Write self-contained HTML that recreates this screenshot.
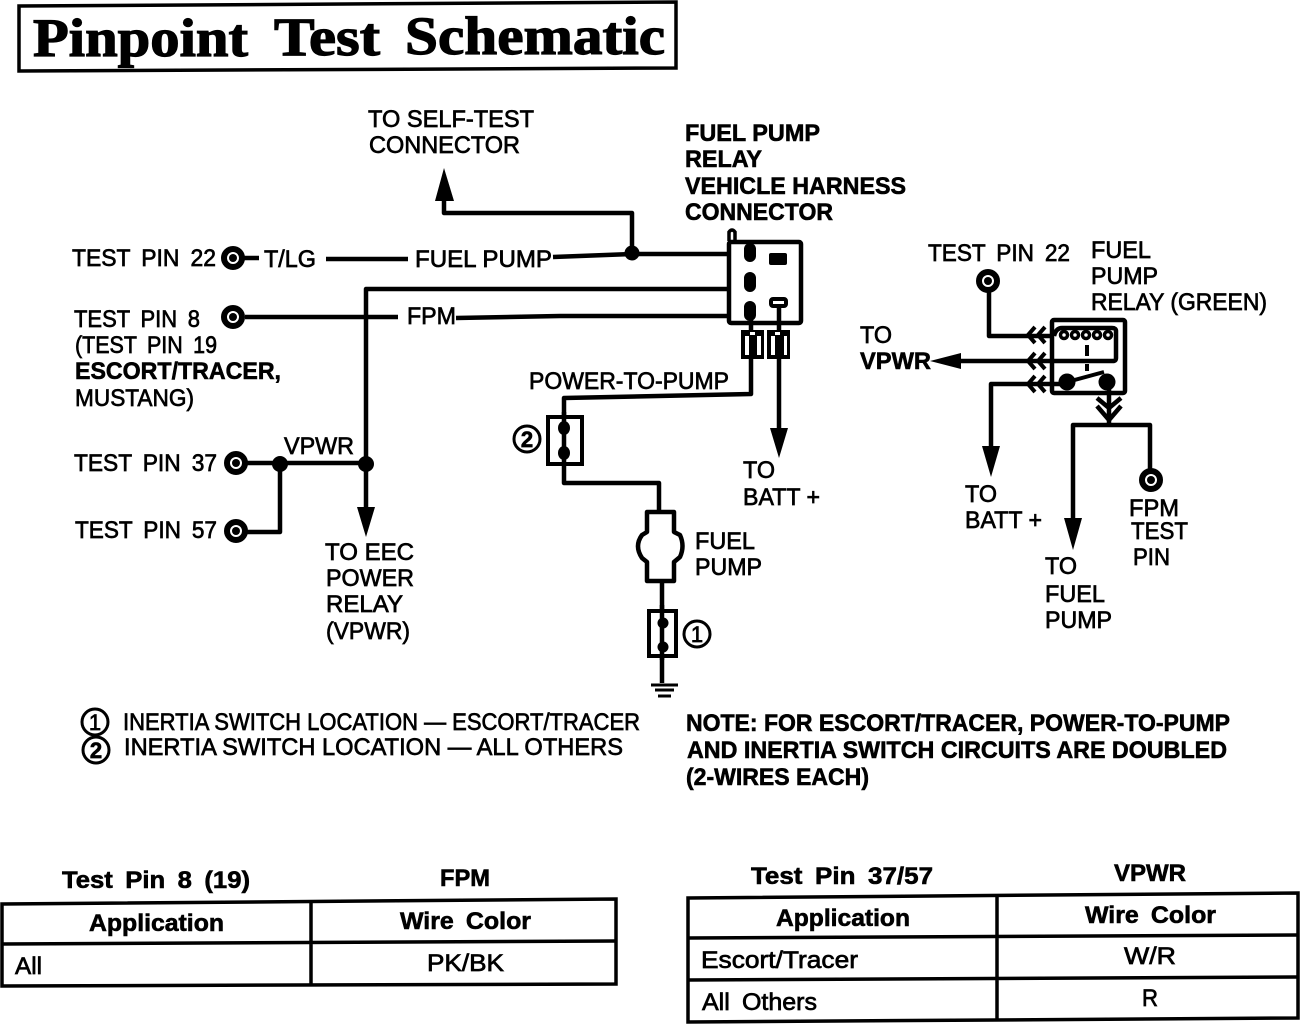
<!DOCTYPE html>
<html><head><meta charset="utf-8"><style>
html,body{margin:0;padding:0;background:#fff}
svg{display:block}
text{font-family:"Liberation Sans",sans-serif;font-size:24px;fill:#000;stroke:#000;stroke-width:.7}
.b{font-weight:bold;font-size:24px;stroke-width:.6}
.ws{word-spacing:5px}
.t{font-family:"Liberation Serif",serif;font-weight:bold;font-size:54px;stroke-width:1.2}
.w{fill:none;stroke:#000;stroke-width:4.5;stroke-linejoin:round}
.k{fill:none;stroke:#000;stroke-width:3}
</style></head><body>
<svg width="1312" height="1024" viewBox="0 0 1312 1024" xmlns="http://www.w3.org/2000/svg">
<path d="M19 6L676 2V68L19 71Z" fill="none" stroke="#000" stroke-width="3.5"/>
<text class="t" x="33" y="56" textLength="215" lengthAdjust="spacingAndGlyphs">Pinpoint</text>
<text class="t" x="274" y="55" textLength="106" lengthAdjust="spacingAndGlyphs">Test</text>
<text class="t" x="405" y="54" textLength="260" lengthAdjust="spacingAndGlyphs">Schematic</text>

<text x="368" y="127" textLength="166" lengthAdjust="spacingAndGlyphs">TO SELF-TEST</text>
<text x="369" y="153" textLength="151" lengthAdjust="spacingAndGlyphs">CONNECTOR</text>
<text class="b" x="685" y="141" textLength="135" lengthAdjust="spacingAndGlyphs">FUEL PUMP</text>
<text class="b" x="685" y="167" textLength="77" lengthAdjust="spacingAndGlyphs">RELAY</text>
<text class="b" x="685" y="194" textLength="221" lengthAdjust="spacingAndGlyphs">VEHICLE HARNESS</text>
<text class="b" x="685" y="220" textLength="148" lengthAdjust="spacingAndGlyphs">CONNECTOR</text>
<text class="ws" x="72" y="266" textLength="144" lengthAdjust="spacingAndGlyphs">TEST PIN 22</text>
<text x="264" y="267" textLength="52" lengthAdjust="spacingAndGlyphs">T/LG</text>
<text x="415" y="267" textLength="137" lengthAdjust="spacingAndGlyphs">FUEL PUMP</text>
<text class="ws" x="74" y="327" textLength="126" lengthAdjust="spacingAndGlyphs">TEST PIN 8</text>
<text x="407" y="324" textLength="49" lengthAdjust="spacingAndGlyphs">FPM</text>
<text class="ws" x="75" y="353" textLength="142" lengthAdjust="spacingAndGlyphs">(TEST PIN 19</text>
<text class="b" x="75" y="379" textLength="206" lengthAdjust="spacingAndGlyphs">ESCORT/TRACER,</text>
<text x="75" y="406" textLength="119" lengthAdjust="spacingAndGlyphs">MUSTANG)</text>
<text class="ws" x="74" y="471" textLength="143" lengthAdjust="spacingAndGlyphs">TEST PIN 37</text>
<text x="284" y="454" textLength="70" lengthAdjust="spacingAndGlyphs">VPWR</text>
<text class="ws" x="75" y="538" textLength="142" lengthAdjust="spacingAndGlyphs">TEST PIN 57</text>
<text x="325" y="560" textLength="89" lengthAdjust="spacingAndGlyphs">TO EEC</text>
<text x="326" y="586" textLength="88" lengthAdjust="spacingAndGlyphs">POWER</text>
<text x="326" y="612" textLength="77" lengthAdjust="spacingAndGlyphs">RELAY</text>
<text x="326" y="639" textLength="84" lengthAdjust="spacingAndGlyphs">(VPWR)</text>
<text x="529" y="389" textLength="200" lengthAdjust="spacingAndGlyphs">POWER-TO-PUMP</text>
<text x="743" y="478" textLength="32" lengthAdjust="spacingAndGlyphs">TO</text>
<text x="743" y="505" textLength="77" lengthAdjust="spacingAndGlyphs">BATT +</text>
<text x="695" y="549" textLength="60" lengthAdjust="spacingAndGlyphs">FUEL</text>
<text x="695" y="575" textLength="67" lengthAdjust="spacingAndGlyphs">PUMP</text>
<text class="ws" x="928" y="261" textLength="142" lengthAdjust="spacingAndGlyphs">TEST PIN 22</text>
<text x="1091" y="258" textLength="60" lengthAdjust="spacingAndGlyphs">FUEL</text>
<text x="1091" y="284" textLength="67" lengthAdjust="spacingAndGlyphs">PUMP</text>
<text x="1091" y="310" textLength="176" lengthAdjust="spacingAndGlyphs">RELAY (GREEN)</text>
<text x="860" y="343" textLength="32" lengthAdjust="spacingAndGlyphs">TO</text>
<text class="b" x="860" y="369" textLength="71" lengthAdjust="spacingAndGlyphs">VPWR</text>
<text x="965" y="502" textLength="32" lengthAdjust="spacingAndGlyphs">TO</text>
<text x="965" y="528" textLength="77" lengthAdjust="spacingAndGlyphs">BATT +</text>
<text x="1129" y="516" textLength="50" lengthAdjust="spacingAndGlyphs">FPM</text>
<text x="1131" y="539" textLength="57" lengthAdjust="spacingAndGlyphs">TEST</text>
<text x="1133" y="565" textLength="37" lengthAdjust="spacingAndGlyphs">PIN</text>
<text x="1045" y="574" textLength="32" lengthAdjust="spacingAndGlyphs">TO</text>
<text x="1045" y="602" textLength="60" lengthAdjust="spacingAndGlyphs">FUEL</text>
<text x="1045" y="628" textLength="67" lengthAdjust="spacingAndGlyphs">PUMP</text>
<text x="123" y="730" textLength="517" lengthAdjust="spacingAndGlyphs">INERTIA SWITCH LOCATION — ESCORT/TRACER</text>
<text x="124" y="755" textLength="499" lengthAdjust="spacingAndGlyphs">INERTIA SWITCH LOCATION — ALL OTHERS</text>
<text class="b" x="686" y="731" textLength="544" lengthAdjust="spacingAndGlyphs">NOTE: FOR ESCORT/TRACER, POWER-TO-PUMP</text>
<text class="b" x="687" y="758" textLength="540" lengthAdjust="spacingAndGlyphs">AND INERTIA SWITCH CIRCUITS ARE DOUBLED</text>
<text class="b" x="686" y="785" textLength="183" lengthAdjust="spacingAndGlyphs">(2-WIRES EACH)</text>

<!-- wires left -->
<path class="w" d="M444 200V213H632V254"/>
<polygon points="444,168 435,201 454,201"/>
<path class="w" d="M244 258H259M326 259H408M553 257L632 254H730"/>
<circle cx="632" cy="253" r="7.5"/>
<path class="w" d="M366 462V289H730"/>
<path class="w" d="M245 317H398M456 318L560 316H730"/>
<path class="w" d="M247 463H366V510"/>
<path class="w" d="M280 463V532H247"/>
<circle cx="280" cy="464" r="8"/><circle cx="366" cy="464" r="8"/>
<polygon points="357,507 375,507 366,537"/>
<g fill="#fff" stroke="#000" stroke-width="6">
<circle cx="233" cy="258" r="9"/><circle cx="233" cy="317" r="9"/><circle cx="236" cy="463" r="9"/><circle cx="236" cy="531" r="9"/><circle cx="988" cy="281" r="9"/><circle cx="1151" cy="480" r="9"/>
</g>
<g><circle cx="233" cy="258" r="4"/><circle cx="233" cy="317" r="4"/><circle cx="236" cy="463" r="4"/><circle cx="236" cy="531" r="4"/><circle cx="988" cy="281" r="4"/><circle cx="1151" cy="480" r="4"/></g>

<!-- harness connector -->
<path fill="none" stroke="#000" stroke-width="3.5" d="M729 241V232Q732 228 735 232V241"/>
<rect x="729" y="242" width="72" height="81" rx="2" fill="none" stroke="#000" stroke-width="4.5"/>
<g fill="#fff" stroke="#000" stroke-width="6">
<rect x="747" y="246" width="6" height="13" rx="3"/><rect x="747" y="275" width="6" height="14" rx="3"/><rect x="747" y="304" width="6" height="14" rx="3"/>
</g>
<rect x="771" y="299" width="15" height="7" rx="2" fill="#fff" stroke="#000" stroke-width="4"/>
<rect x="769" y="253" width="18" height="12" rx="2"/>
<path class="w" d="M751 320V334M779 306V334"/>
<rect x="741" y="330" width="23" height="29"/>
<rect x="767" y="330" width="23" height="29"/>
<g fill="#fff">
<rect x="745" y="336" width="4" height="19"/><rect x="757" y="336" width="4" height="19"/>
<rect x="771" y="336" width="4" height="19"/><rect x="784" y="336" width="3" height="19"/>
<rect x="750" y="332" width="5" height="3"/><rect x="775" y="332" width="5" height="3"/>
</g>
<path class="w" d="M751 359V394L564 398V418"/>
<path class="w" d="M779 359V430"/>
<polygon points="770,428 788,428 779,458"/>

<!-- inertia 2 -->
<rect x="548" y="417" width="34" height="47" fill="#fff" stroke="#000" stroke-width="4"/>
<path class="w" d="M564 412V483H659V512"/>
<ellipse cx="564" cy="428" rx="6" ry="7"/><ellipse cx="564" cy="453" rx="6" ry="7"/>
<circle cx="527" cy="439" r="13" fill="#fff" stroke="#000" stroke-width="3"/>
<text x="527" y="447" style="font-size:22px;font-weight:bold" text-anchor="middle">2</text>

<!-- pump -->
<path class="w" d="M647 512H674V532L680 535Q685 546 680 557L674 562V581H647V562L642 558Q634 546 642 535L647 532Z"/>
<path class="w" d="M662 581V660"/>
<rect x="649" y="611" width="27" height="45" fill="#fff" stroke="#000" stroke-width="4"/>
<path class="w" d="M662 605V683"/>
<circle cx="663" cy="623" r="5.5"/><circle cx="663" cy="647" r="5.5"/>
<circle cx="697" cy="634" r="13" class="k"/>
<text x="697" y="642" style="font-size:22px" text-anchor="middle">1</text>
<path d="M651 685H678M655 690H674M658 696H671" stroke="#000" stroke-width="3" fill="none"/>
<circle cx="95" cy="722" r="13" class="k"/>
<text x="95" y="730" style="font-size:22px" text-anchor="middle">1</text>
<circle cx="96" cy="750" r="13" class="k"/>
<text x="96" y="758" style="font-size:22px;font-weight:bold" text-anchor="middle">2</text>

<!-- relay -->
<path class="w" d="M989 291V336H1054"/>
<path class="w" d="M955 361H1113Q1116 361 1116 358V331Q1116 328 1112 328H1062Q1056 328 1054 336"/>
<polygon points="930,361 961,353 961,369"/>
<path class="w" d="M991 448V384H1062"/>
<polygon points="982,446 1000,446 991,477"/>
<rect x="1052" y="320" width="73" height="73" rx="2" fill="none" stroke="#000" stroke-width="4.5"/>
<g fill="#fff" stroke="#000" stroke-width="3.5">
<circle cx="1064" cy="335" r="3.5"/><circle cx="1075" cy="335" r="3.5"/><circle cx="1086" cy="335" r="3.5"/><circle cx="1097" cy="335" r="3.5"/><circle cx="1108" cy="335" r="3.5"/>
</g>
<g fill="none" stroke="#000" stroke-width="4">
<path d="M1087 345V356M1087 364V371"/>
<path d="M1035 327l-7 8l7 8M1045 327l-7 8l7 8M1035 353l-7 8l7 8M1045 353l-7 8l7 8M1035 376l-7 8l7 8M1045 376l-7 8l7 8"/>
</g>
<circle cx="1067" cy="382" r="8.5"/><circle cx="1107" cy="382" r="8.5"/>
<path d="M1067 382L1104 372" stroke="#000" stroke-width="4"/>
<path class="w" d="M1109 388V424M1097 398l12 10l12-10M1097 406l12 14l12-14"/>
<path class="w" d="M1073 518V425H1150V470"/>
<polygon points="1064,518 1082,518 1073,550"/>

<!-- tables -->
<text class="b ws" x="62" y="888" textLength="188" lengthAdjust="spacingAndGlyphs">Test Pin 8 (19)</text>
<text class="b" x="440" y="886" textLength="50" lengthAdjust="spacingAndGlyphs">FPM</text>
<g fill="none" stroke="#000" stroke-width="3.5">
<path d="M2 904L616 899V984L2 986Z"/>
<path d="M2 944L616 941M311 902V985"/>
</g>
<text class="b" x="89" y="931" textLength="135" lengthAdjust="spacingAndGlyphs">Application</text>
<text class="b ws" x="400" y="929" textLength="131" lengthAdjust="spacingAndGlyphs">Wire Color</text>
<text x="15" y="974" textLength="27" lengthAdjust="spacingAndGlyphs">All</text>
<text x="427" y="971" textLength="77" lengthAdjust="spacingAndGlyphs">PK/BK</text>

<text class="b ws" x="751" y="884" textLength="182" lengthAdjust="spacingAndGlyphs">Test Pin 37/57</text>
<text class="b" x="1114" y="881" textLength="72" lengthAdjust="spacingAndGlyphs">VPWR</text>
<g fill="none" stroke="#000" stroke-width="3.5">
<path d="M688 898L1298 893V1018L688 1022Z"/>
<path d="M688 938L1298 935M688 980L1298 977M997 895V1020"/>
</g>
<text class="b" x="776" y="926" textLength="134" lengthAdjust="spacingAndGlyphs">Application</text>
<text class="b ws" x="1085" y="923" textLength="131" lengthAdjust="spacingAndGlyphs">Wire Color</text>
<text x="701" y="968" textLength="157" lengthAdjust="spacingAndGlyphs">Escort/Tracer</text>
<text x="1124" y="964" textLength="52" lengthAdjust="spacingAndGlyphs">W/R</text>
<text class="ws" x="702" y="1010" textLength="115" lengthAdjust="spacingAndGlyphs">All Others</text>
<text x="1142" y="1006" textLength="16" lengthAdjust="spacingAndGlyphs" style="font-size:24px">R</text>
</svg>
</body></html>
